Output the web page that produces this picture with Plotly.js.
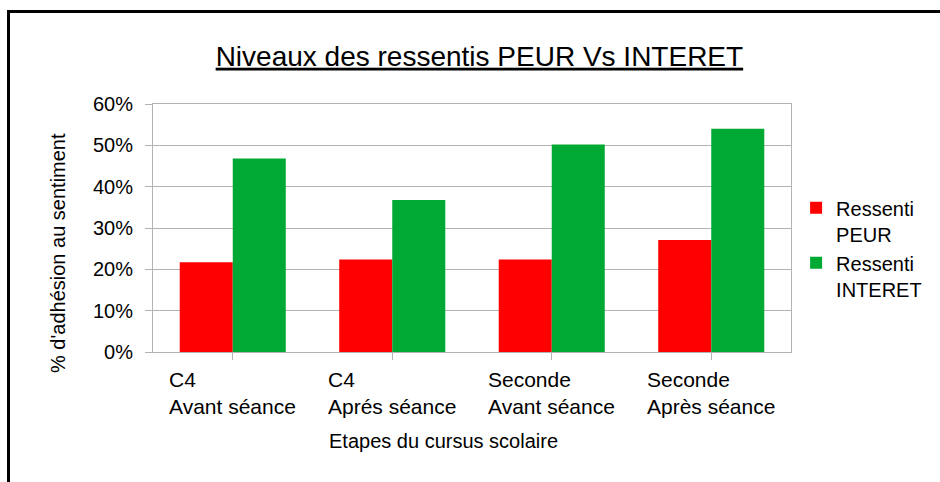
<!DOCTYPE html>
<html>
<head>
<meta charset="utf-8">
<script src="https://cdn.plot.ly/plotly-3.0.1.min.js"></script>
<style>
  body { margin: 0; background: #fff; }
  #cadre { position: absolute; left: 7px; top: 10px; width: 1000px; height: 600px;
           border-left: 3px solid #000; border-top: 3px solid #000; }
  #graph { position: absolute; left: 0; top: 0; width: 940px; height: 482px; }
</style>
</head>
<body>
<div id="cadre"></div>
<div id="graph"></div>
<script>
// etapes du cursus (2 lignes par label)
var niveaux = ['C4', 'C4', 'Seconde', 'Seconde'];
var moments = ['Avant séance', 'Aprés séance', 'Avant séance', 'Après séance'];

// % d'adhesion (fraction)
var peur = [0.217, 0.224, 0.224, 0.271];
var interet = [0.468, 0.368, 0.502, 0.540];

var police = 'Liberation Sans, Arial, sans-serif';
var gris = '#b3b3b3';

var x = [];
for (var i = 0; i < niveaux.length; i++) {
    x.push(i);
}

var trace1 = {
    x: x,
    y: peur,
    type: 'bar',
    name: 'Ressenti<br>PEUR',
    marker: {color: '#ff0000', line: {width: 0}}};

var trace2 = {
    x: x,
    y: interet,
    type: 'bar',
    name: 'Ressenti<br>INTERET',
    marker: {color: '#00a933', line: {width: 0}}};

// labels des categories, alignes a gauche comme dans l'original
var annots = [];
for (i = 0; i < niveaux.length; i++) {
    annots.push({
        x: i - 0.415, xref: 'x',
        y: -0.055, yref: 'paper',
        xanchor: 'left', yanchor: 'top', align: 'left',
        showarrow: false,
        text: niveaux[i] + '<br>' + moments[i],
        font: {family: police, size: 21, color: '#000'}});
}
annots.push({
    x: 0.456, xref: 'paper', y: -0.359, yref: 'paper',
    xanchor: 'center', yanchor: 'middle', showarrow: false,
    text: 'Etapes du cursus scolaire',
    font: {family: police, size: 20, color: '#000'}});
annots.push({
    x: -0.149, xref: 'paper', y: 0.399, yref: 'paper',
    xanchor: 'center', yanchor: 'middle', showarrow: false,
    textangle: -90,
    text: "% d'adhésion au sentiment",
    font: {family: police, size: 20, color: '#000'}});

var layout = {
    width: 940,
    height: 482,
    margin: {l: 153, r: 149, t: 104, b: 130, autoexpand: false},
    paper_bgcolor: 'rgba(0,0,0,0)',
    plot_bgcolor: '#fff',
    font: {family: police, size: 20, color: '#000'},
    title: {
        text: '<u>Niveaux des ressentis PEUR Vs INTERET</u>',
        x: 0.51, xref: 'container', xanchor: 'center',
        y: 0.884, yref: 'container', yanchor: 'middle',
        font: {family: police, size: 28, color: '#000'}},
    barmode: 'group',
    bargap: 0.335,
    bargroupgap: 0,
    showlegend: true,
    legend: {
        x: 1.008, xanchor: 'left',
        y: 0.66, yanchor: 'top',
        valign: 'top',
        font: {family: police, size: 20, color: '#000'},
        tracegroupgap: 2},
    xaxis: {
        range: [-0.5, 3.5],
        tickvals: x,
        showticklabels: false,
        tickson: 'boundaries',
        ticks: 'outside', ticklen: 7, tickcolor: gris,
        showgrid: false,
        showline: true, linecolor: gris, mirror: true,
        zeroline: false,
        fixedrange: true},
    yaxis: {
        range: [0, 0.6],
        dtick: 0.1,
        tickformat: '.0%',
        ticks: 'outside', ticklen: 7, tickcolor: gris,
        ticklabelstandoff: 8,
        gridcolor: gris,
        showline: true, linecolor: gris, mirror: true,
        zeroline: false,
        tickfont: {family: police, size: 20, color: '#000'}},
    annotations: annots
};

Plotly.newPlot('graph', [trace1, trace2], layout, {displayModeBar: false, staticPlot: true});
</script>
</body>
</html>
